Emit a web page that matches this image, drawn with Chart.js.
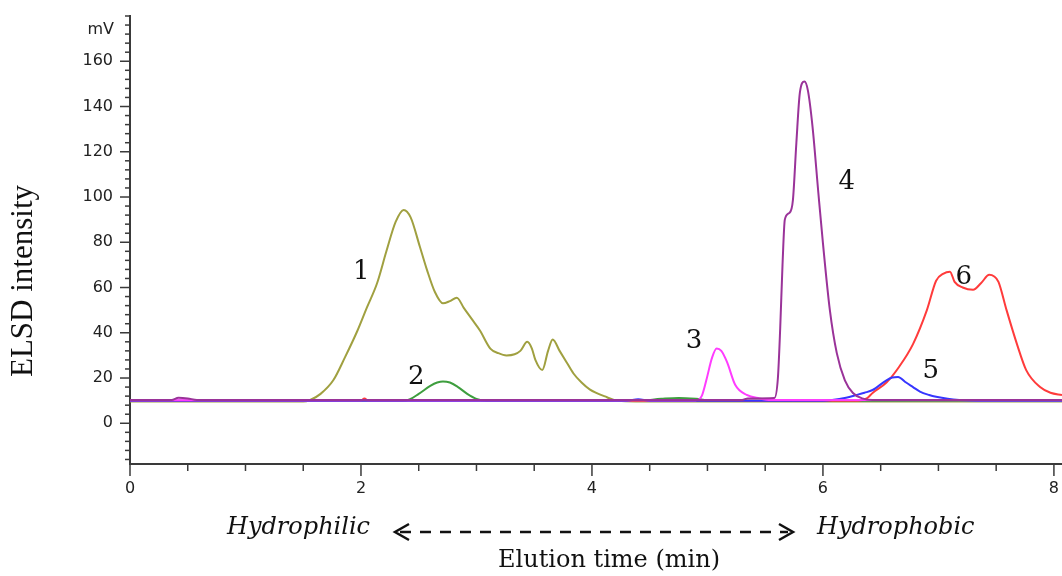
<!DOCTYPE html>
<html>
<head>
<meta charset="utf-8">
<script src="https://cdn.jsdelivr.net/npm/chart.js@4.4.1/dist/chart.umd.min.js"></script>
<style>
  html, body { margin: 0; padding: 0; background: #ffffff; }
  #wrap { width: 1062px; height: 576px; position: relative; }
</style>
</head>
<body>
<div id="wrap"><canvas id="c" width="1062" height="576"></canvas></div>
<script>
// ---------- data ----------
const xTickLabels = [0, 2, 4, 6, 8];
const yTickLabels = [0, 20, 40, 60, 80, 100, 120, 140, 160];
const yUnit = 'mV';

// 1 (olive)
const t1 = [0, 1.5, 1.56, 1.65, 1.76, 1.86, 1.97, 2.05, 2.14, 2.22, 2.3, 2.37, 2.43, 2.51, 2.57, 2.64, 2.71, 2.77, 2.83, 2.89, 2.96, 3.03, 3.12, 3.19, 3.26, 3.33, 3.38, 3.44, 3.48, 3.51, 3.57, 3.62, 3.66, 3.72, 3.78, 3.84, 3.91, 3.98, 4.13, 4.22, 4.6, 5.0, 5.6, 6.0, 8.07];
const s1 = [9.6, 9.6, 10.3, 13, 19, 29, 41, 51, 62, 76, 89, 94.3, 91, 78, 68, 58, 53, 54, 55.5, 51, 46, 41, 33, 31, 30, 30.5, 32, 36, 33, 28, 23.5, 32, 37, 32, 27, 22, 18, 15, 11.5, 10, 9.6, 9.6, 9.6, 9.6, 9.6];
// 2 (green)
const t2 = [0, 2.35, 2.42, 2.5, 2.6, 2.66, 2.71, 2.77, 2.84, 2.92, 3.0, 3.08, 4.4, 4.6, 4.75, 4.9, 5.05, 8.07];
const s2 = [9.8, 9.8, 10.5, 13, 16.5, 18, 18.5, 18, 16, 13, 10.8, 10, 10, 10.8, 11.2, 10.8, 10, 9.8];
// 3 (magenta)
const t3 = [0, 4.9, 4.95, 4.99, 5.04, 5.08, 5.12, 5.17, 5.24, 5.34, 5.45, 5.55, 8.07];
const s3 = [10.2, 10.2, 12, 19, 29, 33, 32, 27, 17, 12.5, 11, 10.3, 10.2];
// 4 (purple)
const t4 = [0, 0.36, 0.42, 0.5, 0.58, 5.3, 5.35, 5.58, 5.61, 5.63, 5.65, 5.67, 5.71, 5.74, 5.77, 5.80, 5.84, 5.87, 5.91, 5.96, 6.00, 6.06, 6.12, 6.19, 6.26, 6.34, 6.43, 8.07];
const s4 = [10.3, 10.3, 11.3, 11, 10.3, 10.3, 11, 11.2, 20, 42, 70, 90, 93, 98.6, 124, 146, 151, 147, 131, 102, 79.6, 50, 31, 19, 13.4, 11, 10.3, 10.3];
// 5 (blue)
const t5 = [0, 4.3, 4.4, 4.5, 6.0, 6.08, 6.2, 6.29, 6.36, 6.43, 6.55, 6.6, 6.65, 6.72, 6.78, 6.84, 6.92, 6.98, 7.08, 7.18, 7.4, 8.07];
const s5 = [10, 10, 10.6, 10, 10, 10.3, 11.3, 12.5, 13.5, 14.7, 19, 20.2, 20.5, 18, 16, 14, 12.5, 11.7, 10.8, 10.3, 10, 10];
// 6 (red)
const t6 = [0, 2.0, 2.03, 2.06, 6.3, 6.38, 6.43, 6.55, 6.66, 6.78, 6.90, 6.98, 7.04, 7.10, 7.14, 7.21, 7.30, 7.37, 7.44, 7.48, 7.52, 7.59, 7.68, 7.76, 7.88, 7.97, 8.07];
const s6 = [10, 10, 11, 10, 10, 11, 13.4, 18, 25, 35, 50, 63, 66, 67, 62.5, 60, 59, 62, 65.6, 65, 62.5, 50, 35, 23.5, 16, 13.5, 12.5];

// peak numbers and where they sit (data coordinates)
const peakNames = ['1', '2', '3', '4', '5', '6'];
const peakNameX = [2.003, 2.478, 4.883, 6.207, 6.934, 7.219];
const peakNameY = [66.9, 20.5, 36.4, 106.7, 23.2, 64.7];

// axis texts
const yTitle = 'ELSD intensity';
const xTitle = 'Elution time (min)';
const leftNote = 'Hydrophilic';
const rightNote = 'Hydrophobic';

// ---------- chart ----------
const pts = (t, s) => t.map((v, i) => ({ x: v, y: s[i] }));
const lineDs = (label, t, s, color, order) => ({
  label, data: pts(t, s), borderColor: color, backgroundColor: color,
  borderWidth: 2, pointRadius: 0, fill: false,
  cubicInterpolationMode: 'monotone', order
});

const decor = {
  id: 'decor',
  afterDraw(chart) {
    const { ctx, scales: { x, y }, chartArea: a } = chart;
    ctx.save();
    ctx.strokeStyle = '#3a3a3a';
    ctx.lineWidth = 1.5;
    const seg = (x1, y1, x2, y2) => { ctx.beginPath(); ctx.moveTo(x1, y1); ctx.lineTo(x2, y2); ctx.stroke(); };
    // y ticks
    for (let v = -16; v <= y.max + 0.001; v += 4) {
      const py = y.getPixelForValue(v);
      const major = yTickLabels.includes(v);
      seg(a.left - (major ? 10 : 5), py, a.left, py);
    }
    // x ticks
    for (let v = 0; v <= x.max + 0.001; v += 0.5) {
      const px = x.getPixelForValue(v);
      const major = xTickLabels.includes(v);
      seg(px, a.bottom, px, a.bottom + (major ? 12 : 7));
    }
    // tick labels
    ctx.fillStyle = '#222';
    ctx.font = '16px "DejaVu Sans"';
    ctx.textAlign = 'right'; ctx.textBaseline = 'middle';
    yTickLabels.forEach(v => ctx.fillText(String(v), a.left - 17, y.getPixelForValue(v)));
    ctx.fillText(yUnit, a.left - 16, y.getPixelForValue(173.7));
    ctx.textAlign = 'center'; ctx.textBaseline = 'middle';
    xTickLabels.forEach(v => ctx.fillText(String(v), x.getPixelForValue(v), a.bottom + 25));

    // peak numbers
    ctx.fillStyle = '#111';
    ctx.font = '26px "DejaVu Serif"';
    ctx.textAlign = 'center'; ctx.textBaseline = 'middle';
    peakNames.forEach((n, i) => ctx.fillText(n, x.getPixelForValue(peakNameX[i]), y.getPixelForValue(peakNameY[i])));

    // y title
    ctx.save();
    ctx.translate(24, 281);
    ctx.rotate(-Math.PI / 2);
    ctx.font = '31px "Liberation Serif"';
    ctx.textAlign = 'center'; ctx.textBaseline = 'middle';
    ctx.fillStyle = '#111';
    ctx.fillText(yTitle, 0, 0);
    ctx.restore();

    // bottom notes
    ctx.fillStyle = '#111';
    ctx.font = 'italic 24px "DejaVu Serif"';
    ctx.textBaseline = 'alphabetic';
    ctx.textAlign = 'left';
    ctx.fillText(leftNote, 227, 534);
    ctx.fillText(rightNote, 817, 534);
    ctx.font = '24px "DejaVu Serif"';
    ctx.textAlign = 'center';
    ctx.fillText(xTitle, 609, 567);

    // dashed double arrow
    ctx.strokeStyle = '#111';
    ctx.lineWidth = 2.5;
    ctx.setLineDash([11, 9]);
    seg(400, 532, 788, 532);
    ctx.setLineDash([]);
    ctx.beginPath(); ctx.moveTo(409, 524); ctx.lineTo(395, 532); ctx.lineTo(409, 540); ctx.stroke();
    ctx.beginPath(); ctx.moveTo(779, 524); ctx.lineTo(793, 532); ctx.lineTo(779, 540); ctx.stroke();
    ctx.restore();
  }
};

new Chart(document.getElementById('c'), {
  type: 'line',
  data: {
    datasets: [
      lineDs('1', t1, s1, '#a0a040', 5),
      lineDs('2', t2, s2, '#3e9e3e', 4),
      lineDs('6', t6, s6, '#ff3b3b', 3),
      lineDs('5', t5, s5, '#3636ff', 2),
      lineDs('3', t3, s3, '#ff3cff', 1),
      lineDs('4', t4, s4, '#9a3399', 0)
    ]
  },
  options: {
    responsive: false,
    animation: false,
    events: [],
    layout: { padding: { top: 16, right: 0, left: 0, bottom: 0 } },
    plugins: { legend: { display: false }, tooltip: { enabled: false }, title: { display: false } },
    scales: {
      x: {
        type: 'linear', min: 0, max: 8.07,
        grid: { display: false, drawTicks: false },
        border: { display: true, color: '#3a3a3a', width: 2 },
        ticks: { display: false },
        afterBuildTicks: s => { s.ticks = xTickLabels.map(v => ({ value: v })); },
        afterFit: s => { s.height = 112; }
      },
      y: {
        type: 'linear', min: -18, max: 180,
        grid: { display: false, drawTicks: false },
        border: { display: true, color: '#3a3a3a', width: 2 },
        ticks: { display: false },
        afterBuildTicks: s => { s.ticks = yTickLabels.map(v => ({ value: v })); },
        afterFit: s => { s.width = 130; }
      }
    }
  },
  plugins: [decor]
});
</script>
</body>
</html>
